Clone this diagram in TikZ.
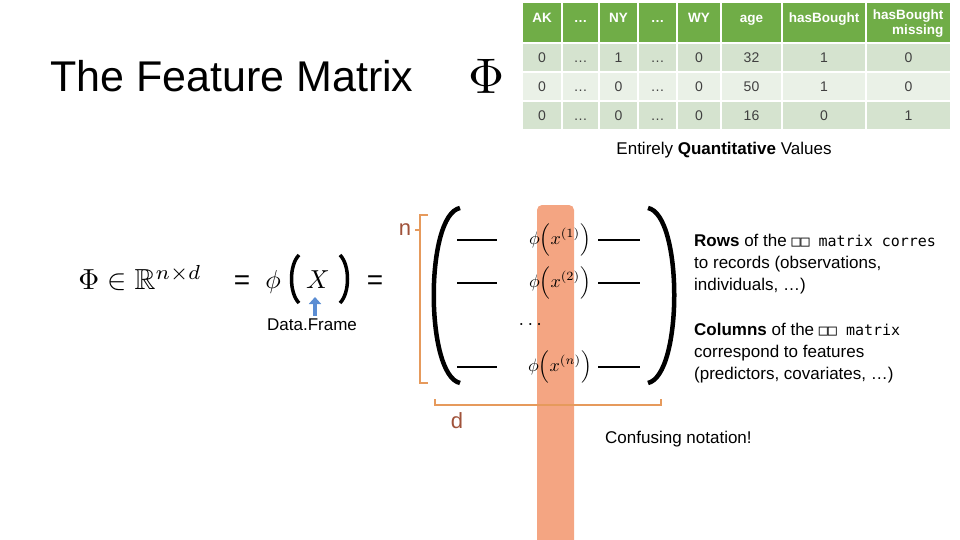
\documentclass[tikz,border=0pt]{standalone}
\usepackage{amsmath,amssymb}
\usepackage{fontspec}
\setmainfont{Liberation Sans}
\newfontfamily\monof{DejaVu Sans Mono}
\usetikzlibrary{arrows.meta}
\definecolor{hdr}{HTML}{70AD47}
\definecolor{rowA}{HTML}{D5E3CF}
\definecolor{rowB}{HTML}{EAF1E7}
\definecolor{org}{HTML}{F4A582}
\definecolor{brk}{HTML}{E69A5C}
\definecolor{nd}{HTML}{A0523A}
\definecolor{arr}{RGB}{91,141,211}
\tikzset{cell/.style={inner sep=0pt,font=\fontsize{14}{16}\selectfont,text=black!75},
hcell/.style={inner sep=0pt,font=\bfseries\fontsize{13.5}{15}\selectfont,text=white,align=center},
body/.style={anchor=west,align=left,inner sep=0pt,font=\fontsize{17}{22}\selectfont},
rowline/.style={line width=1.8pt},
bigbr/.style={line width=4.5pt},
mth/.style={inner sep=0pt}}
\begin{document}
\begin{tikzpicture}[x=1pt,y=-1pt]
\useasboundingbox (0,0) rectangle (960,540);
% orange column
\fill[org,rounded corners=5pt] (537,205) rectangle (574,545);
% title
\node[anchor=west,inner sep=0pt,font=\fontsize{43}{46}\selectfont] (title) at (50,76) {The Feature Matrix};
\node[mth] (Phi) at (487,76) {\scalebox{5}{$\Phi$}};
% table
\def\xs{{522,562,599,638,677,721,782,866,951}}
\foreach \i/\t in {0/AK,1/…,2/NY,3/…,4/WY,5/age,6/hasBought}{
 \pgfmathsetmacro\xa{\xs[\i]+1}\pgfmathsetmacro\xb{\xs[\i+1]-1}
 \fill[hdr] (\xa,3) rectangle (\xb,42);
 \node[hcell,anchor=base] (h\i) at ({(\xa+\xb)/2},23) {\t};
}
\fill[hdr] (867,3) rectangle (950,42);
\node[hcell,anchor=north,align=right] (h7) at (908,10) {hasBought\\missing};
\foreach \r/\ya/\yb/\c/\vals in {1/44/71/rowA/{0,…,1,…,0,32,1,0},2/73/100/rowB/{0,…,0,…,0,50,1,0},3/102/129/rowA/{0,…,0,…,0,16,0,1}}{
 \foreach \v [count=\j from 0] in \vals {
  \pgfmathsetmacro\xa{\xs[\j]+1}\pgfmathsetmacro\xb{\xs[\j+1]-1}
  \fill[\c] (\xa,\ya) rectangle (\xb,\yb);
  \node[cell,anchor=base] (c\r\j) at ({(\xa+\xb)/2},{(\ya+\yb)/2+5}) {\v};
 }
}
\node[inner sep=0pt,font=\fontsize{17}{19}\selectfont] (quant) at (724,150) {Entirely \textbf{Quantitative} Values};
% left formula
\node[mth] (phidef) at (140,278) {\scalebox{2.9}{$\Phi\in\mathbb{R}^{n\times d}$}};
\node[inner sep=0pt,font=\fontsize{28}{30}\selectfont] (eq1) at (242,283) {=};
\node[mth] (phi) at (273,282) {\scalebox{2.6}{$\phi$}};
\node[mth] (X) at (318,280) {\scalebox{2.6}{$X$}};
\draw[line width=3.5pt] (299,255) .. controls (289,265) and (289,293) .. (299,303);
\draw[line width=3.5pt] (340,255) .. controls (350,265) and (350,293) .. (340,303);
\node[inner sep=0pt,font=\fontsize{28}{30}\selectfont] (eq2) at (375,283) {=};
\node[inner sep=0pt,font=\fontsize{17}{19}\selectfont] (df) at (312,325) {Data.Frame};
\coordinate (as) at (315,316);
\coordinate (ae) at (315,297);
\draw[-{Triangle[width=12pt,length=7pt]},arr,line width=4pt] (as) -- (ae);
% big brackets
\draw[bigbr] (460,208) .. controls (425,215) and (425,375) .. (460,383);
\draw[bigbr] (648,208) .. controls (683,215) and (683,375) .. (648,383);
% rows
\foreach \k/\y/\s in {1/240/1,2/283/2,4/367/n}{
 \node[mth] (r\k) at (560,\y) {\scalebox{1.8}{$\phi\Bigl(x^{(\s)}\Bigr)$}};
 \draw[rowline] (457,\y) -- (497,\y);
 \draw[rowline] (598,\y) -- (640,\y);
}
\node[mth] (r3) at (532,325) {\scalebox{2}{$\cdots$}};
% n and d brackets
\draw[brk,line width=1.2pt] (428,215) -- (420,215) -- (420,383) -- (428,383);
\draw[brk,line width=1.2pt] (420,230) -- (415,230);
\node[nd,inner sep=0pt,font=\fontsize{22}{24}\selectfont] (nlab) at (405,230) {n};
\draw[brk,line width=1.2pt] (435,399) -- (435,405) -- (661,405) -- (661,399);
\node[nd,inner sep=0pt,font=\fontsize{22}{24}\selectfont] (dlab) at (457,421) {d};
% right texts
\node[body] (rows) at (694,264) {\textbf{Rows} of the {\monof\fontsize{15}{22}\selectfont □□ matrix corres}\\to records (observations,\\individuals, …)};
\node[body] (cols) at (694,353) {\textbf{Columns} of the {\monof\fontsize{15}{22}\selectfont □□ matrix}\\correspond to features\\(predictors, covariates, …)};
\node[body] (conf) at (605,439) {Confusing notation!};
\end{tikzpicture}
\end{document}
